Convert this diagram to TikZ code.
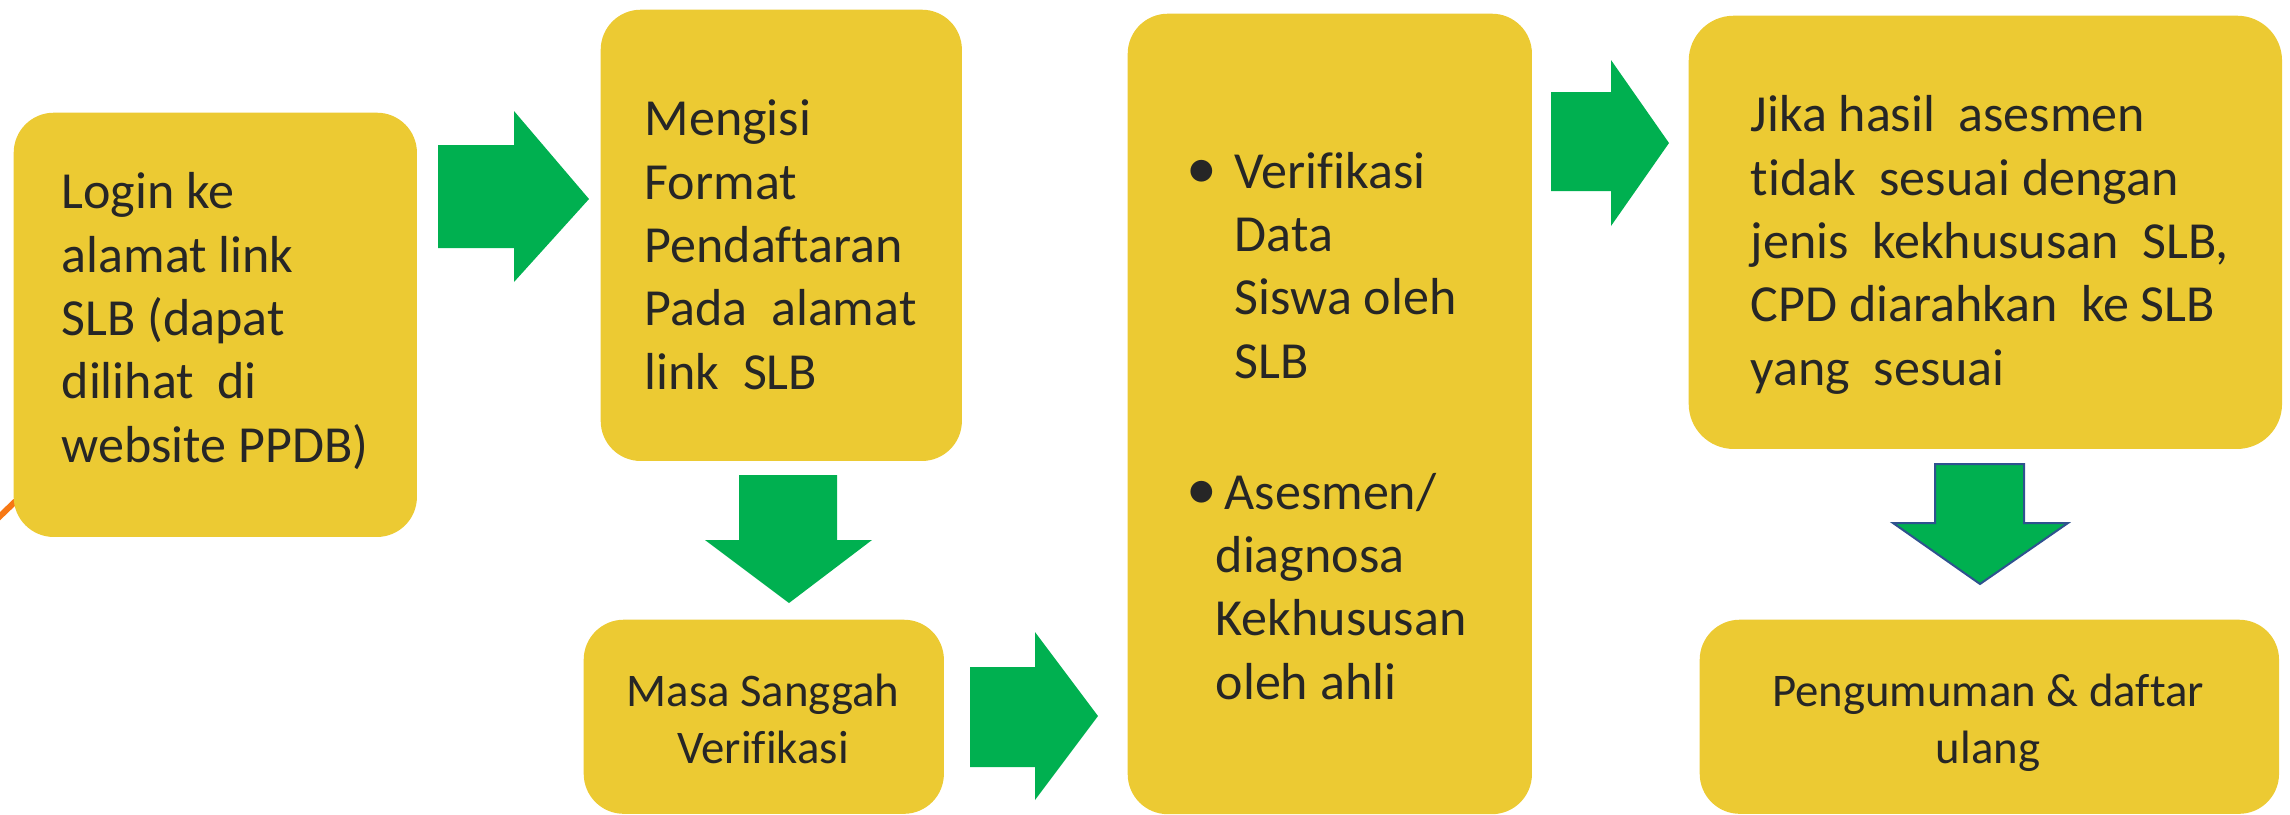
\documentclass[tikz,border=0pt]{standalone}
\usepackage{fontspec}
\setmainfont{Carlito}[Ligatures=CommonOff]
\definecolor{boxyellow}{RGB}{236,202,51}
\definecolor{arrowgreen}{RGB}{0,176,80}
\definecolor{textgray}{RGB}{38,38,38}
\definecolor{edgeblue}{RGB}{47,82,143}
\definecolor{markorange}{RGB}{247,120,20}
\usetikzlibrary{positioning, calc}

\newcommand{\dotmark}{{\fontsize{17.5}{18}\selectfont •}}

\tikzset{
  stepbox/.style={fill=boxyellow, rounded corners=0.4cm, inner sep=0pt, anchor=north west},
  bigtext/.style={text=textgray, align=left, inner sep=0pt, anchor=base west, font=\fontsize{14.8}{18}\selectfont},
  smalltext/.style={text=textgray, align=center, inner sep=0pt, anchor=base, font=\fontsize{13.3}{16.2}\selectfont},
  blockarrow/.style={fill=arrowgreen}
}

\begin{document}
\begin{tikzpicture}[x=0.01cm, y=-0.01cm]
  \useasboundingbox (0,0) rectangle (2290,814);

  % stray mark at the left edge
  \draw[markorange, line width=0.06cm, line cap=round] (-4,520) -- (22,495);

  % boxes
  \node[stepbox, minimum width=4.03cm, minimum height=4.24cm] (login) at (13,112) {};
  \node[stepbox, minimum width=3.61cm, minimum height=4.51cm] (mengisi) at (600,9) {};
  \node[stepbox, minimum width=3.60cm, minimum height=1.94cm] (sanggah) at (583,619) {};
  \node[stepbox, minimum width=4.04cm, minimum height=8.00cm] (verif) at (1127,13) {};
  \node[stepbox, minimum width=5.93cm, minimum height=4.33cm, rounded corners=0.45cm] (jika) at (1688,15) {};
  \node[stepbox, minimum width=5.79cm, minimum height=1.94cm] (umum) at (1699,619) {};

  % texts (placed at the baseline of their last line)
  \node[bigtext] (logintxt) at (61,462) {Login ke\\alamat link\\SLB (dapat\\dilihat\ \ di\\website PPDB)};
  \node[bigtext] (mengisitxt) at (644,389) {Mengisi\\Format\\Pendaftaran\\Pada\ \ alamat\\link\ \ SLB};
  \node[smalltext] (sanggahtxt) at (763,763) {Masa Sanggah\\Verifikasi};
  \node[bigtext] (veriftxt) at (1186,378) {\makebox[0.48cm][l]{\dotmark}Verifikasi\\\hspace*{0.48cm}Data\\\hspace*{0.48cm}Siswa oleh\\\hspace*{0.48cm}SLB};
  \node[bigtext] (asesmentxt) at (1186,699) {\makebox[0.38cm][l]{\dotmark}Asesmen/\\\hspace*{0.29cm}diagnosa\\\hspace*{0.29cm}Kekhususan\\\hspace*{0.29cm}oleh ahli};
  \node[bigtext] (jikatxt) at (1750,385) {Jika hasil\ \ asesmen\\tidak\ \ sesuai dengan\\jenis\ \ kekhususan\ \ SLB,\\CPD diarahkan\ \ ke SLB\\yang\ \ sesuai};
  \node[smalltext] (umumtxt) at (1988,763) {Pengumuman \& daftar\\ulang};

  % block arrows
  \fill[blockarrow] (438,145) -- (514,145) -- (514,111) -- (589,199) -- (514,282) -- (514,248) -- (438,248) -- cycle;
  \fill[blockarrow] (739,475) -- (837,475) -- (837,540) -- (872,540) -- (789,603) -- (705,540) -- (739,540) -- cycle;
  \fill[blockarrow] (970,667) -- (1035,667) -- (1035,632) -- (1098,716) -- (1035,800) -- (1035,767) -- (970,767) -- cycle;
  \fill[blockarrow] (1551,92) -- (1611,92) -- (1611,60) -- (1669,143) -- (1611,226) -- (1611,191) -- (1551,191) -- cycle;
  \filldraw[blockarrow, draw=edgeblue, line width=0.02cm] (1935,464) -- (2024,464) -- (2024,523) -- (2068,523) -- (1980,584) -- (1893,523) -- (1935,523) -- cycle;
\end{tikzpicture}
\end{document}
